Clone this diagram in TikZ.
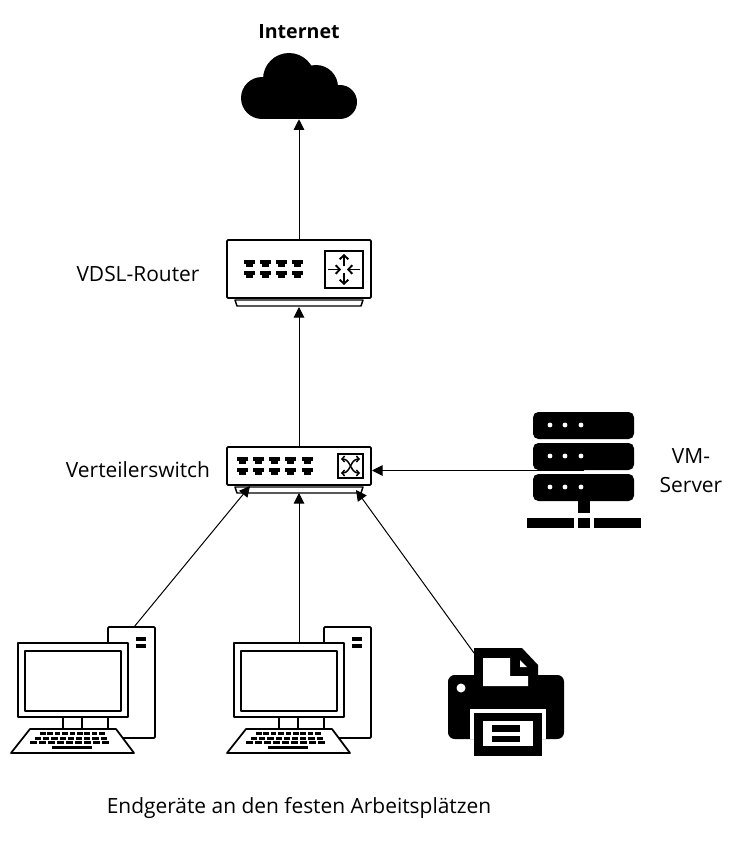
\documentclass[tikz,border=0pt]{standalone}
\usepackage{fontspec}
\setmainfont{Open Sans}
\usetikzlibrary{arrows.meta}
\def\px{.75pt}
\tikzset{
  label text/.style={font=\fontsize{15.7}{21.7}\selectfont, inner sep=0pt, text=black},
  device/.style={draw=black, line width=1.3pt, fill=white, inner sep=0pt, rounded corners=.8pt},
  link/.style={draw=black, line width=.75pt, -{Triangle[length=8pt,width=8pt]}},
  outline/.style={draw=black, line width=1.3pt, fill=white, line join=round}
}
\newcommand{\portpair}[2]{%
  \fill (#1-5.5,#2-2.5) rectangle (#1+5.5,#2+1.5);
  \fill (#1-3.5,#2+1) rectangle (#1+3.5,#2+4.5);
}
\newcommand{\standbar}[2]{%
  \draw[outline, line width=1.1pt] (235,#1) -- (363,#1) -- (361,#2) -- (237,#2) -- cycle;
}
\newcommand{\pcicon}[2]{%
  \begin{scope}[shift={(#1,0)}]
    \node[device, minimum width=47*\px, minimum height=111*\px] (#2) at (131.5,682.5) {};
    \fill (136,637) rectangle (146,641);
    \fill (136,644) rectangle (146,648);
    \draw[outline] (18,643) rectangle (128,717);
    \draw[outline] (25,651) rectangle (121,711);
    \draw[outline] (63,717) rectangle (108,729);
    \draw[outline] (82,717) -- (82,729);
    \draw[outline] (30,729) -- (116,729) -- (134,753) -- (11,753) -- cycle;
    \foreach \n in {0,...,8} {
      \fill ({40+7.4*\n},732) rectangle ++(5.6,3);
      \fill ({35+8.2*\n},736.5) rectangle ++(6.2,3);
      \fill ({30+9*\n},741) rectangle ++(6.8,3);
    }
    \fill (52,745.5) rectangle (92,749);
  \end{scope}
}
\begin{document}
\begin{tikzpicture}[x=.75pt,y=-.75pt]
  \useasboundingbox (0,0) rectangle (745,842);
  % cloud
  \node[minimum width=116*\px, minimum height=66*\px, inner sep=0pt] (cloud) at (299,86) {};
  \fill (262,98) circle (21) (340,102) circle (17) (289,79) circle (26) (316,87) circle (22);
  \fill (262,92) rectangle (340,119);
  % router
  \standbar{300}{306}
  \node[device, minimum width=144*\px, minimum height=58*\px] (router) at (299,269) {};
  \foreach \x in {249,265,281,297} {
    \portpair{\x}{262}
    \portpair{\x}{273}
  }
  \node[draw=black, line width=1.4pt, minimum width=38*\px, minimum height=37*\px, inner sep=0pt] (routerbox) at (344,269.5) {};
  \begin{scope}[-{Straight Barb[length=3pt,width=6.5pt]}, line width=1.4pt]
    \draw (344,266) -- (344,254);
    \draw (344,273) -- (344,285);
    \draw (328,269.5) -- (341,269.5);
    \draw (360,269.5) -- (347,269.5);
  \end{scope}
  % switch
  \standbar{487}{493}
  \node[device, minimum width=144*\px, minimum height=38*\px] (switch) at (299,466) {};
  \foreach \x in {242,258,274,290,307} {
    \portpair{\x}{459}
    \portpair{\x}{470}
  }
  \node[draw=black, line width=1.3pt, minimum width=25*\px, minimum height=24*\px, inner sep=0pt] (switchbox) at (350.5,466) {};
  \begin{scope}[{Straight Barb[length=2pt,width=4.5pt]}-{Straight Barb[length=2pt,width=4.5pt]}, line width=1.1pt]
    \draw (341,459) .. controls (351,459) and (350,473) .. (360,473);
    \draw (341,473) .. controls (351,473) and (350,459) .. (360,459);
  \end{scope}
  % server
  \foreach \y in {412,443,474} {
    \fill[rounded corners=4pt] (533,\y) rectangle (634,\y+27);
    \foreach \x in {550,565,581}
      \fill[white] (\x,\y+13) circle (2.4);
  }
  \fill (578,501) rectangle (590,513);
  \fill (527,518) rectangle (574,528);
  \fill (578,518) rectangle (590,528);
  \fill (594,518) rectangle (641,528);
  \coordinate (server) at (584,470.5);
  % computers
  \pcicon{0}{pcleft}
  \pcicon{216}{pcright}
  % printer
  \fill (474,648) -- (522,648) -- (538,665) -- (538,680) -- (474,680) -- cycle;
  \fill[rounded corners=5pt] (448,675) rectangle (564,739);
  \fill[white] (483,658) -- (510,658) -- (510,676) -- (528,676) -- (528,686) -- (483,686) -- cycle;
  \fill[white] (520,660) -- (527,667) -- (520,667) -- cycle;
  \fill[white] (461,688) circle (4.5);
  \fill[white] (470,709) rectangle (546,739);
  \fill (474,713) rectangle (542,756);
  \fill[white] (483,721) rectangle (533,746);
  \fill (492,725) rectangle (520,732);
  \fill (492,736) rectangle (520,742);
  \coordinate (printer) at (474,653);
  % link ends
  \coordinate (swside) at (372,470.5);
  \coordinate (swleft) at (250,486);
  \coordinate (swmid) at (299,493);
  \coordinate (swright) at (356,490);
  \coordinate (pcleftup) at (134,627);
  \coordinate (pcrightup) at (299,643);
  \coordinate (routerin) at (299,307);
  % links
  \draw[link] (router.north) -- (cloud.south);
  \draw[link] (switch.north) -- (routerin);
  \draw[link] (server) -- (swside);
  \draw[link] (pcleftup) -- (swleft);
  \draw[link] (pcrightup) -- (swmid);
  \draw[link] (printer) -- (swright);
  % labels
  \node[label text, font=\fontsize{14.7}{20}\selectfont\bfseries] (inetlabel) at (299,31.5) {Internet};
  \node[label text] (routerlabel) at (138,274) {VDSL-Router};
  \node[label text] (switchlabel) at (138,470) {Verteilerswitch};
  \node[label text, align=center] (serverlabel) at (691,471) {VM-\\Server};
  \node[label text] (endlabel) at (299,807.5) {Endgeräte an den festen Arbeitsplätzen};
\end{tikzpicture}
\end{document}
